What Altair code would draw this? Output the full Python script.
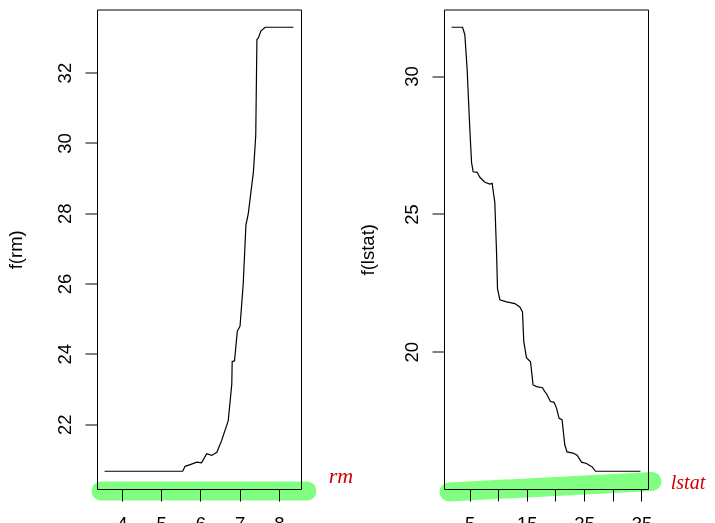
import altair as alt
import pandas as pd

# ---- data ----
rm_x = [3.56, 5.55, 5.61, 5.74, 5.91, 6.03, 6.16, 6.29, 6.42, 6.54, 6.71, 6.80, 6.81, 6.87,
        6.94, 7.01, 7.09, 7.16, 7.22, 7.35, 7.41, 7.44, 7.48, 7.54, 7.65, 8.37]
rm_f = [20.66, 20.66, 20.80, 20.85, 20.92, 20.90, 21.16, 21.11, 21.20, 21.53, 22.10, 23.14, 23.78, 23.80,
        24.64, 24.79, 25.97, 27.66, 27.99, 29.17, 30.21, 32.94, 32.99, 33.18, 33.29, 33.29]

lstat_x = [1.86, 3.78, 4.18, 4.58, 5.05, 5.35, 5.63, 6.33, 6.80, 7.67, 8.54, 8.94, 9.41, 9.71,
           9.88, 10.29, 11.45, 12.90, 13.77, 14.24, 14.47, 14.94, 15.64, 16.09, 16.69, 17.73,
           18.13, 18.43, 19.13, 19.76, 20.18, 20.63, 21.15, 21.62, 22.02, 23.07, 23.77, 24.54,
           25.41, 25.98, 26.45, 26.98, 34.83]
lstat_f = [31.77, 31.77, 31.50, 30.24, 28.07, 26.87, 26.53, 26.51, 26.33, 26.15, 26.08, 26.11, 25.42, 23.62,
           22.29, 21.89, 21.81, 21.75, 21.63, 21.45, 20.36, 19.79, 19.64, 18.80, 18.74, 18.70,
           18.56, 18.48, 18.20, 18.17, 17.96, 17.59, 17.54, 16.63, 16.37, 16.33, 16.25, 16.00,
           15.95, 15.88, 15.82, 15.67, 15.67]

rm_xticks = [4, 5, 6, 7, 8]
rm_yticks = [22, 24, 26, 28, 30, 32]
lstat_xticks = [5, 10, 15, 20, 25, 30, 35]
lstat_yticks = [20, 25, 30]

FONT = "Liberation Sans"
FS = 18.5
W, H = 204, 479.5


def rdom(v):
    lo, hi = min(v), max(v)
    e = 0.04 * (hi - lo)
    return [lo - e, hi + e]


def panel(xs, ys, xname, yname, xticks, yticks, label_expr, title_x,
          green, note, note_xy, note_size):
    df = pd.DataFrame({xname: xs, "f": ys})
    line = alt.Chart(df).mark_line(color="black", strokeWidth=1.2).encode(
        x=alt.X(f"{xname}:Q",
                scale=alt.Scale(domain=rdom(xs), nice=False, zero=False),
                axis=alt.Axis(values=xticks, title=None, grid=False, domain=False,
                              tickSize=12, tickColor="black", tickWidth=1,
                              labelFont=FONT, labelFontSize=FS, labelColor="black",
                              labelPadding=13, labelBaseline="top", labelFlush=False,
                              labelOverlap=False, labelBound=False,
                              labelExpr=label_expr, zindex=1)),
        y=alt.Y("f:Q",
                scale=alt.Scale(domain=rdom(ys), nice=False, zero=False),
                axis=alt.Axis(values=yticks, title=yname, grid=False, domain=False,
                              tickSize=12, tickColor="black", tickWidth=1,
                              labelFont=FONT, labelFontSize=FS, labelColor="black",
                              labelAngle=270, labelAlign="center", labelBaseline="alphabetic",
                              labelPadding=15, labelFlush=False, labelOverlap=False,
                              labelBound=False,
                              titleFont=FONT, titleFontSize=FS, titleFontWeight="normal",
                              titleColor="black", titleAngle=270, titleAlign="center",
                              titleBaseline="alphabetic", titleX=title_x, titleY=H / 2,
                              zindex=1)),
    )
    one = pd.DataFrame({"k": [0]})
    hl = alt.Chart(one).mark_rule(color="#80FF80", strokeWidth=19, strokeCap="round",
                                  blend="multiply").encode(
        x=alt.value(green[0]), y=alt.value(green[1]),
        x2=alt.value(green[2]), y2=alt.value(green[3]))
    txt = alt.Chart(one).mark_text(text=note, color="#D00000", font="Liberation Serif",
                                   fontStyle="italic", fontSize=note_size, align="center",
                                   baseline="alphabetic").encode(
        x=alt.value(note_xy[0]), y=alt.value(note_xy[1]))
    return alt.layer(line, hl, txt).properties(width=W, height=H)


left = panel(rm_x, rm_f, "rm", "f(rm)", rm_xticks, rm_yticks, "datum.label",
             -75.5, (4, 481.5, 210, 481.5), "rm", (244, 473), 22)
right = panel(lstat_x, lstat_f, "lstat", "f(lstat)", lstat_xticks, lstat_yticks,
              "datum.value % 10 == 5 ? datum.label : ''",
              -71, (5, 482.5, 208, 472), "lstat", (244, 479), 20)

chart = alt.hconcat(left, right, spacing=143, bounds="flush").properties(
    autosize=alt.AutoSizeParams(type="pad"),
    padding={"left": -2, "top": 0.5, "right": 0, "bottom": 0},
).configure_view(stroke="black", strokeWidth=1)

chart.save("out.html", embed_options={"renderer": "svg", "actions": False})
